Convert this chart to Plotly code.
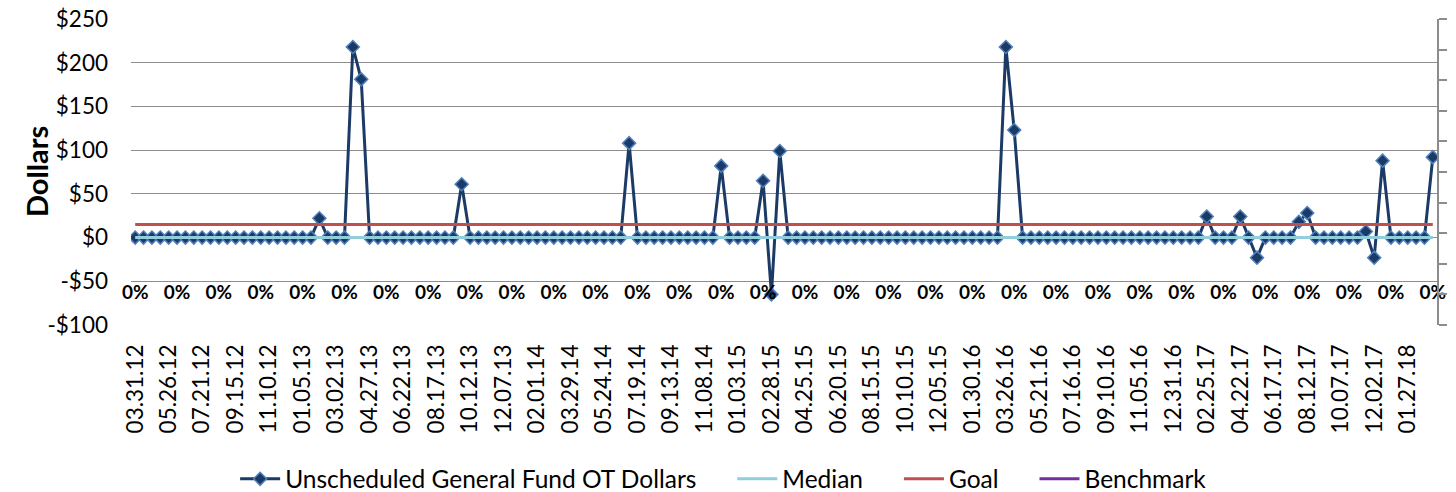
import pandas as pd
import plotly.graph_objects as go

# ---------------- data ----------------
# bi-weekly pay periods, 03.31.12 .. 03.10.18 (156 periods)
periods = [d.strftime("%m.%d.%y") for d in pd.date_range("2012-03-31", periods=156, freq="14D")]

ot_dollars = [
    0, 0, 0, 0, 0, 0, 0, 0, 0, 0,          # 0-9
    0, 0, 0, 0, 0, 0, 0, 0, 0, 0,          # 10-19
    0, 0, 22, 0, 0, 0, 218, 181, 0, 0,     # 20-29
    0, 0, 0, 0, 0, 0, 0, 0, 0, 61,         # 30-39
    0, 0, 0, 0, 0, 0, 0, 0, 0, 0,          # 40-49
    0, 0, 0, 0, 0, 0, 0, 0, 0, 108,        # 50-59
    0, 0, 0, 0, 0, 0, 0, 0, 0, 0,          # 60-69
    82, 0, 0, 0, 0, 65, -65, 99, 0, 0,     # 70-79
    0, 0, 0, 0, 0, 0, 0, 0, 0, 0,          # 80-89
    0, 0, 0, 0, 0, 0, 0, 0, 0, 0,          # 90-99
    0, 0, 0, 0, 218, 123, 0, 0, 0, 0,      # 100-109
    0, 0, 0, 0, 0, 0, 0, 0, 0, 0,          # 110-119
    0, 0, 0, 0, 0, 0, 0, 0, 24, 0,         # 120-129
    0, 0, 24, 0, -23, 0, 0, 0, 0, 18,      # 130-139
    28, 0, 0, 0, 0, 0, 0, 7, -23, 88,      # 140-149
    0, 0, 0, 0, 0, 92,                     # 150-155
]
median_value = 0
goal_value = 15
median = [median_value] * len(periods)
goal = [goal_value] * len(periods)
benchmark = [None] * len(periods)

# percentage labels shown every 5th period
pct_periods = periods[::5]
pct_values = [0, 0, 0, 0, 0, 0, 0, 0, 0, 0, 0, 0, 0, 0, 0, 0,
              0, 0, 0, 0, 0, 0, 0, 0, 0, 0, 0, 0, 0, 0, 0, 0]

# x tick labels (every 4th period)
x_tick_labels = periods[:153:4]

y_tick_vals = [-100, -50, 0, 50, 100, 150, 200, 250]
y_tick_text = ["-$100", "-$50", "$0", "$50", "$100", "$150", "$200", "$250"]

series_names = ["Unscheduled General Fund OT Dollars", "Median", "Goal", "Benchmark"]

# ---------------- style ----------------
FONT = "Lato"
GRID = "#8C8C8C"
NAVY = "#1B3A66"
MARKER_EDGE = "#4F81BD"
MEDIAN_C = "#92CDDC"
GOAL_C = "#C0504D"
BENCH_C = "#7030A0"
PCT_LABEL_Y = -65
GAP = "\u2003\u00a0\u00a0"   # extra spacing after legend entries

fig = go.Figure()

fig.add_trace(go.Scatter(
    x=periods, y=ot_dollars, name=series_names[0] + GAP,
    mode="lines+markers",
    line=dict(color=NAVY, width=3),
    marker=dict(symbol="diamond", size=10, color=NAVY,
                line=dict(color=MARKER_EDGE, width=1.5)),
))
fig.add_trace(go.Scatter(
    x=periods, y=median, name=series_names[1] + GAP, mode="lines",
    line=dict(color=MEDIAN_C, width=3),
))
fig.add_trace(go.Scatter(
    x=periods, y=goal, name=series_names[2] + GAP, mode="lines",
    line=dict(color=GOAL_C, width=3),
))
fig.add_trace(go.Scatter(
    x=periods, y=benchmark, name=series_names[3], mode="lines",
    line=dict(color=BENCH_C, width=3),
))
fig.add_trace(go.Scatter(
    x=pct_periods, y=[PCT_LABEL_Y] * len(pct_periods), mode="text",
    text=[f"{v:.0%}" for v in pct_values], textposition="middle center",
    textfont=dict(family=FONT, size=19, color="#000000", weight="bold"),
    showlegend=False, hoverinfo="skip", cliponaxis=False,
))
# placeholder on secondary axis so it is drawn
fig.add_trace(go.Scatter(
    x=[periods[0]], y=[None], yaxis="y2", mode="lines",
    showlegend=False, hoverinfo="skip",
))

fig.update_layout(
    width=1456, height=492,
    margin=dict(l=131, r=19, t=19, b=167, autoexpand=False),
    paper_bgcolor="white", plot_bgcolor="white",
    font=dict(family=FONT, size=22.5, color="#000000"),
    showlegend=True,
    legend=dict(orientation="h", xref="container", yref="paper",
                x=0.497, xanchor="center", y=-0.503, yanchor="middle",
                font=dict(family=FONT, size=24.5), traceorder="normal",
                itemwidth=40),
    xaxis=dict(
        type="category", range=[-0.5, 155.5], automargin=False,
        tickmode="array", tickvals=x_tick_labels, ticktext=x_tick_labels,
        tickangle=-90, showgrid=False, showline=False, zeroline=False,
        ticks="", ticklabelstandoff=14,
        tickfont=dict(family=FONT, size=22.5),
    ),
    yaxis=dict(
        range=[-100, 250], tickmode="array", tickvals=y_tick_vals, ticktext=y_tick_text,
        showgrid=True, gridcolor=GRID, gridwidth=1, zeroline=False, showline=False,
        ticks="", ticklabelstandoff=22, automargin=False,
        tickfont=dict(family=FONT, size=22.5),
    ),
    yaxis2=dict(
        overlaying="y", side="right", range=[0, 1], dtick=0.1, tick0=0,
        showticklabels=False, showgrid=False, zeroline=False, automargin=False,
        showline=True, linecolor=GRID, linewidth=1.5,
        ticks="outside", ticklen=8, tickcolor=GRID, tickwidth=1.5,
    ),
    annotations=[dict(
        text="<b>Dollars</b>", xref="paper", yref="paper",
        x=(36 - 131) / 1306, y=0.5, xanchor="center", yanchor="middle",
        textangle=-90, showarrow=False, font=dict(family=FONT, size=29, color="#000000"),
    )],
)

fig.write_html("out.html", config={"displayModeBar": False},
               post_script="document.body.style.margin='0';")
